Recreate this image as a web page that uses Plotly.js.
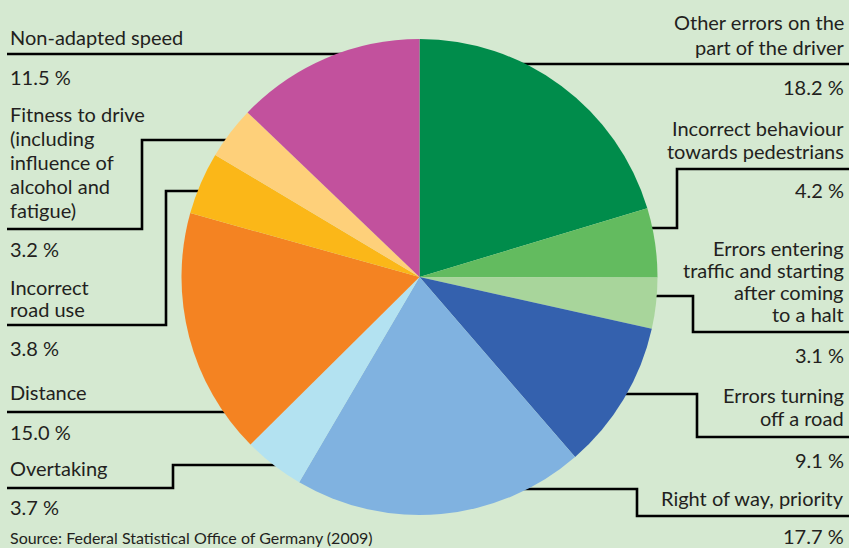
<!DOCTYPE html>
<html>
<head>
<meta charset="utf-8">
<script src="https://cdn.plot.ly/plotly-3.0.1.min.js"></script>
<style>html,body{margin:0;padding:0;background:#D5E9D1;}#chart{width:849px;height:548px;}</style>
</head>
<body>
<div id="chart"></div>
<script>
// ---- data ----
const categories = [
  "Other errors on the\npart of the driver",
  "Incorrect behaviour\ntowards pedestrians",
  "Errors entering\ntraffic and starting\nafter coming\nto a halt",
  "Errors turning\noff a road",
  "Right of way, priority",
  "Overtaking",
  "Distance",
  "Incorrect\nroad use",
  "Fitness to drive\n(including\ninfluence of\nalcohol and\nfatigue)",
  "Non-adapted speed"
];
const values = [18.2, 4.2, 3.1, 9.1, 17.7, 3.7, 15.0, 3.8, 3.2, 11.5];
const sliceColors = ["#008C4B", "#63BB5F", "#A8D59B", "#3461AE", "#80B2E0",
                     "#B3E2F1", "#F48322", "#FBB718", "#FED07A", "#C2519D"];
const sourceText = "Source: Federal Statistical Office of Germany (2009)";

// ---- layout helpers (pixel positions of labels / leader lines) ----
const W = 849, H = 548;
const px = x => x / W, py = y => 1 - y / H;
const labelPos = [
  {side: 'r', y0: 22, gap: 25, vy: 87},
  {side: 'r', y0: 128, gap: 22.5, vy: 190},
  {side: 'r', y0: 248, gap: 22, vy: 355},
  {side: 'r', y0: 395, gap: 22.5, vy: 460},
  {side: 'r', y0: 498, gap: 22, vy: 536},
  {side: 'l', y0: 468, gap: 22, vy: 507},
  {side: 'l', y0: 392, gap: 22, vy: 432},
  {side: 'l', y0: 286.5, gap: 22.5, vy: 348},
  {side: 'l', y0: 114, gap: 24, vy: 249},
  {side: 'l', y0: 37, gap: 22, vy: 77}
];
const leaders = [
  [[500, 64], [849, 64]],
  [[640, 228], [677, 228], [677, 169], [849, 169]],
  [[640, 296], [693, 296], [693, 332], [849, 332]],
  [[615, 394], [697, 394], [697, 437], [849, 437]],
  [[520, 489], [637, 489], [637, 516], [849, 516]],
  [[290, 465], [173, 465], [173, 488], [7, 488]],
  [[240, 412], [7, 412]],
  [[205, 191], [166, 191], [166, 325], [7, 325]],
  [[235, 140], [142, 140], [142, 229], [7, 229]],
  [[345, 54], [7, 54]]
];

const FONT = {family: "Lato, 'Noto Sans', sans-serif", size: 20, color: "#231F20"};
const annotations = [];
categories.forEach((cat, i) => {
  const p = labelPos[i];
  const xa = p.side === 'r' ? 'right' : 'left';
  const xx = p.side === 'r' ? px(846) : px(8);
  cat.split("\n").forEach((line, k) => {
    annotations.push({xref: 'paper', yref: 'paper', x: xx, y: py(p.y0 + k * p.gap),
      xanchor: xa, yanchor: 'middle', showarrow: false, text: line, font: FONT});
  });
  annotations.push({xref: 'paper', yref: 'paper', x: xx, y: py(p.vy),
    xanchor: xa, yanchor: 'middle', showarrow: false,
    text: values[i].toFixed(1) + " %", font: FONT});
});
annotations.push({xref: 'paper', yref: 'paper', x: px(8), y: py(537),
  xanchor: 'left', yanchor: 'middle', showarrow: false, text: sourceText,
  font: {family: FONT.family, size: 16, color: FONT.color}});

const shapes = leaders.map(pts => ({
  type: 'path', xref: 'paper', yref: 'paper', layer: 'below',
  path: pts.map((p, k) => (k ? 'L' : 'M') + px(p[0]) + ',' + py(p[1])).join(' '),
  line: {color: '#000000', width: 2.6}
}));

const cx = 419.5, cy = 277, R = 238;
const trace = {
  type: 'pie',
  labels: categories.map(c => c.replace(/\n/g, ' ')),
  values: values,
  sort: false,
  direction: 'clockwise',
  rotation: 0,
  textinfo: 'none',
  hoverinfo: 'label+value',
  marker: {colors: sliceColors, line: {width: 0}},
  domain: {x: [px(cx - R), px(cx + R)], y: [py(cy + R), py(cy - R)]},
  showlegend: false
};

Plotly.newPlot('chart', [trace], {
  width: W, height: H, autosize: false,
  margin: {l: 0, r: 0, t: 0, b: 0, pad: 0},
  paper_bgcolor: '#D5E9D1', plot_bgcolor: '#D5E9D1',
  showlegend: false,
  annotations: annotations,
  shapes: shapes
}, {displayModeBar: false, staticPlot: true});
</script>
</body>
</html>
